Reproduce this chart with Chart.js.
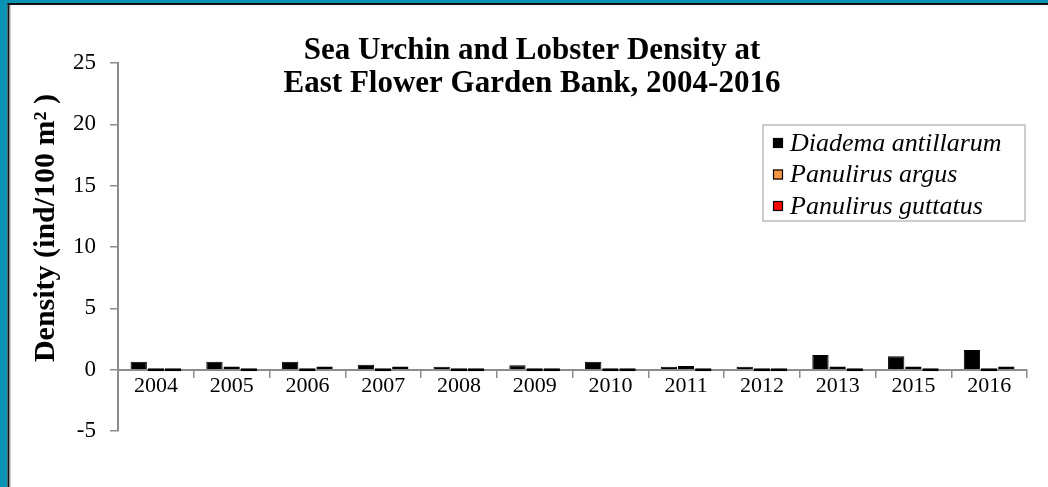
<!DOCTYPE html>
<html>
<head>
<meta charset="utf-8">
<script src="https://cdn.jsdelivr.net/npm/chart.js@4/dist/chart.umd.min.js"></script>
<style>
  html, body { margin: 0; padding: 0; background: #ffffff; }
  #wrap { width: 1048px; height: 487px; position: relative; }
</style>
</head>
<body>
<div id="wrap"><canvas id="c" width="1048" height="487"></canvas></div>
<script>
const years = ['2004','2005','2006','2007','2008','2009','2010','2011','2012','2013','2015','2016'];
const diadema = [0.65, 0.65, 0.65, 0.4, 0.12, 0.35, 0.65, 0.15, 0.12, 1.2, 1.1, 1.6];
const argus = [0, 0.25, 0, 0, 0, 0, 0, 0.3, 0, 0.25, 0.25, 0];
const guttatus = [0, 0, 0.25, 0.25, 0, 0, 0, 0, 0, 0, 0, 0.25];
const seriesNames = ['Diadema antillarum', 'Panulirus argus', 'Panulirus guttatus'];
const titleLines = ['Sea Urchin and Lobster Density at', 'East Flower Garden Bank, 2004-2016'];
const yTitle = 'Density (ind/100 m\u00B2 )';
const yTicks = [-5, 0, 5, 10, 15, 20, 25];

const SERIF = '"Liberation Serif", "Times New Roman", serif';

const framePlugin = {
  id: 'frame',
  beforeDraw(chart) {
    const ctx = chart.ctx;
    const w = chart.width, h = chart.height;
    ctx.save();
    ctx.fillStyle = '#ffffff';
    ctx.fillRect(0, 0, w, h);
    ctx.fillStyle = '#0a93b5';
    ctx.fillRect(0, 0, 7.5, h);
    ctx.fillRect(0, 0, w, 3);
    ctx.fillStyle = '#111111';
    ctx.fillRect(7.5, 3, 2, h - 3);
    ctx.fillRect(7.5, 3, w - 7.5, 2);
    ctx.fillStyle = '#9a9a9a';
    ctx.fillRect(9.5, 5, 1, h - 5);
    ctx.restore();
  },
  afterDraw(chart) {
    const ctx = chart.ctx;
    ctx.save();
    // Title
    ctx.fillStyle = '#000';
    ctx.font = 'bold 31px ' + SERIF;
    ctx.textAlign = 'center';
    ctx.textBaseline = 'alphabetic';
    ctx.fillText(titleLines[0], 532, 59);
    ctx.fillText(titleLines[1], 532, 92);
    // Y axis title
    ctx.save();
    ctx.translate(46, 228);
    ctx.rotate(-Math.PI / 2);
    ctx.font = 'bold 30px ' + SERIF;
    ctx.textAlign = 'center';
    ctx.textBaseline = 'middle';
    ctx.fillText(yTitle, 0, 0);
    ctx.restore();
    // Legend
    const lx = 763, ly = 125, lw = 262, lh = 96;
    ctx.strokeStyle = '#bdbdbd';
    ctx.lineWidth = 1.5;
    ctx.strokeRect(lx, ly, lw, lh);
    ctx.font = 'italic 26px ' + SERIF;
    ctx.textAlign = 'left';
    chart.data.datasets.forEach((ds, i) => {
      const cy = 143 + i * 31.5;
      ctx.fillStyle = ds.backgroundColor;
      ctx.fillRect(773, cy - 5, 10, 10);
      ctx.strokeStyle = '#000';
      ctx.lineWidth = 1.2;
      ctx.strokeRect(773.5, cy - 4.5, 9, 9);
      ctx.fillStyle = '#000';
      ctx.textBaseline = 'middle';
      ctx.fillText(ds.label, 790, cy + 1);
    });
    ctx.restore();
  }
};

new Chart(document.getElementById('c'), {
  type: 'bar',
  data: {
    labels: years,
    datasets: [
      { label: seriesNames[0], data: diadema, backgroundColor: '#000000', borderColor: '#000000', borderWidth: 1 },
      { label: seriesNames[1], data: argus, backgroundColor: '#f79646', borderColor: '#000000', borderWidth: 1.6, borderSkipped: false },
      { label: seriesNames[2], data: guttatus, backgroundColor: '#ff0000', borderColor: '#000000', borderWidth: 1.6, borderSkipped: false }
    ]
  },
  options: {
    responsive: false,
    animation: false,
    devicePixelRatio: 1,
    layout: { padding: { left: 12, right: 21, top: 63, bottom: 56 } },
    datasets: { bar: { categoryPercentage: 0.68, barPercentage: 0.95, minBarLength: 3 } },
    plugins: {
      legend: { display: false },
      title: { display: false },
      tooltip: { enabled: false }
    },
    scales: {
      x: {
        position: { y: 0 },
        offset: true,
        grid: { display: true, drawOnChartArea: false, drawTicks: true, tickLength: 7, color: '#8c8c8c', lineWidth: 1.5, offset: true },
        border: { display: true, color: '#8c8c8c', width: 2 },
        ticks: { color: '#000', font: { family: SERIF, size: 22 }, padding: -4, maxRotation: 0, autoSkip: false }
      },
      y: {
        min: -5,
        max: 25,
        afterFit(scale) { scale.width = 106; },
        afterBuildTicks(scale) { scale.ticks = yTicks.map(v => ({ value: v })); },
        grid: { display: true, drawOnChartArea: false, drawTicks: true, tickLength: 8, color: '#8c8c8c', lineWidth: 1.5 },
        border: { display: true, color: '#8c8c8c', width: 2 },
        ticks: { color: '#000', font: { family: SERIF, size: 23 }, padding: 14, stepSize: 5 },
        title: { display: false }
      }
    }
  },
  plugins: [framePlugin]
});
</script>
</body>
</html>
